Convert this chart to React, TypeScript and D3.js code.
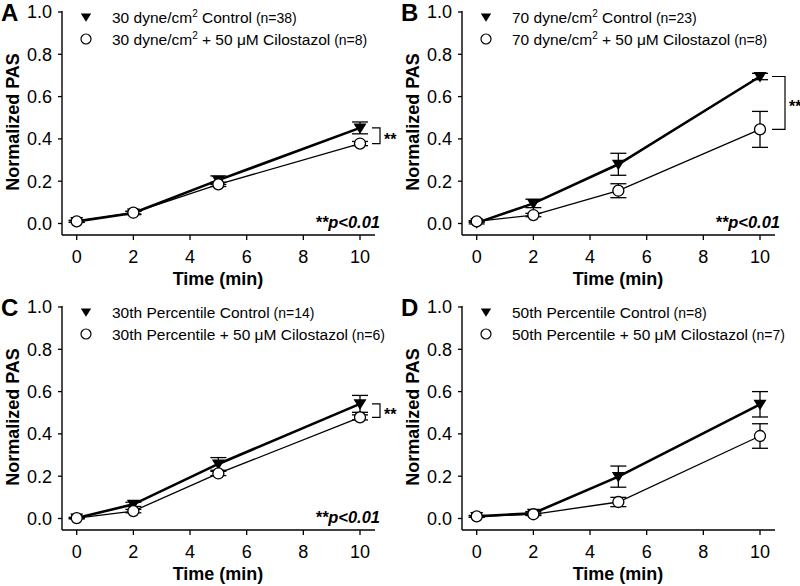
import React from "react";
import * as d3 from "d3";

const times = [0, 2, 5, 10];
const panelLetters = ["A", "B", "C", "D"];

const controlA = [0.01, 0.05, 0.205, 0.452];
const controlErrA = [0.005, 0.008, 0.02, 0.028];
const ciloA = [0.01, 0.051, 0.185, 0.378];
const ciloErrA = [0.004, 0.006, 0.01, 0.01];

const controlB = [0.003, 0.095, 0.28, 0.695];
const controlErrB = [0.005, 0.02, 0.052, 0.015];
const ciloB = [0.01, 0.04, 0.155, 0.445];
const ciloErrB = [0.004, 0.008, 0.033, 0.085];

const controlC = [0.002, 0.067, 0.258, 0.542];
const controlErrC = [0.003, 0.01, 0.03, 0.04];
const ciloC = [0.002, 0.035, 0.213, 0.478];
const ciloErrC = [0.003, 0.008, 0.01, 0.012];

const controlD = [0.01, 0.025, 0.198, 0.54];
const controlErrD = [0.004, 0.008, 0.05, 0.06];
const ciloD = [0.01, 0.02, 0.078, 0.39];
const ciloErrD = [0.004, 0.006, 0.022, 0.058];

const controlLabels = ["30 dyne/cm^2 Control", "70 dyne/cm^2 Control", "30th Percentile Control", "50th Percentile Control"];
const controlN = ["(n=38)", "(n=23)", "(n=14)", "(n=8)"];
const ciloLabels = ["30 dyne/cm^2 + 50 \u03BCM Cilostazol", "70 dyne/cm^2 + 50 \u03BCM Cilostazol", "30th Percentile + 50 \u03BCM Cilostazol", "50th Percentile + 50 \u03BCM Cilostazol"];
const ciloN = ["(n=8)", "(n=8)", "(n=6)", "(n=7)"];
const significant = [true, true, true, false];

const xTicks = [0, 2, 4, 6, 8, 10];
const yTicks = [0, 0.2, 0.4, 0.6, 0.8, 1.0];

const FONT = "'Liberation Sans', Arial, Helvetica, sans-serif";

const controls = [controlA, controlB, controlC, controlD];
const controlErrs = [controlErrA, controlErrB, controlErrC, controlErrD];
const cilos = [ciloA, ciloB, ciloC, ciloD];
const ciloErrs = [ciloErrA, ciloErrB, ciloErrC, ciloErrD];

const offsets = [
  [0, 0],
  [400, 0],
  [0, 295],
  [400, 295],
];
const bracketX = [380, 385, 380, 380];
const bracketW = [8, 13, 8, 8];

function Label({ text, n, x, y }: { text: string; n: string; x: number; y: number }) {
  const parts = text.split("^2");
  return (
    <text x={x} y={y} fontFamily={FONT} fontSize={15.5} fill="#000">
      {parts.length > 1 ? (
        <>
          <tspan>{parts[0]}</tspan>
          <tspan fontSize={10} dy={-6}>2</tspan>
          <tspan dy={6}>{parts[1]}</tspan>
        </>
      ) : (
        <tspan>{text}</tspan>
      )}
      <tspan fontSize={14}> {n}</tspan>
    </text>
  );
}

function triPath(cx: number, cy: number, s = 1) {
  return `M${cx - 6.5 * s},${cy - 4.5 * s}L${cx + 6.5 * s},${cy - 4.5 * s}L${cx},${cy + 6 * s}Z`;
}

function Panel({ i }: { i: number }) {
  const [ox, oy] = offsets[i];
  const x = d3.scaleLinear().domain([0, 10]).range([76.7, 360]);
  const y = d3.scaleLinear().domain([0, 1]).range([223.5, 12]);
  const axisX0 = 62;
  const axisY0 = 235;
  const ctrl = controls[i];
  const cil = cilos[i];
  const line = d3
    .line<number>()
    .x((_, k) => x(times[k]))
    .y((d) => y(d));
  const cap = 8;
  const errBars = (vals: number[], errs: number[], key: string) =>
    vals.map((v, k) => {
      const cx = x(times[k]);
      const t = y(v + errs[k]);
      const b = y(v - errs[k]);
      return (
        <g key={key + k} stroke="#000" strokeWidth={1.3}>
          <line x1={cx} x2={cx} y1={t} y2={b} />
          <line x1={cx - cap} x2={cx + cap} y1={t} y2={t} />
          <line x1={cx - cap} x2={cx + cap} y1={b} y2={b} />
        </g>
      );
    });
  const yTop = y(ctrl[3]);
  const yBot = y(cil[3]);
  const bx = bracketX[i];
  const bw = bracketW[i];
  return (
    <g transform={`translate(${ox},${oy})`}>
      {/* axes */}
      <line x1={axisX0} x2={axisX0} y1={y(1) - 1} y2={axisY0} stroke="#000" strokeWidth={1.4} />
      <line x1={axisX0} x2={375} y1={axisY0} y2={axisY0} stroke="#000" strokeWidth={1.4} />
      {yTicks.map((t) => (
        <g key={"yt" + t}>
          <line x1={axisX0 - 4} x2={axisX0} y1={y(t)} y2={y(t)} stroke="#000" strokeWidth={1.3} />
          <text x={axisX0 - 10} y={y(t)} dy="0.35em" textAnchor="end" fontFamily={FONT} fontSize={18} fill="#000">
            {d3.format(".1f")(t)}
          </text>
        </g>
      ))}
      {xTicks.map((t) => (
        <g key={"xt" + t}>
          <line x1={x(t)} x2={x(t)} y1={axisY0} y2={axisY0 + 5} stroke="#000" strokeWidth={1.3} />
          <text x={x(t)} y={263} textAnchor="middle" fontFamily={FONT} fontSize={18} fill="#000">
            {t}
          </text>
        </g>
      ))}
      <text x={218} y={285} textAnchor="middle" fontFamily={FONT} fontSize={18} fontWeight="bold" fill="#000">
        Time (min)
      </text>
      <text
        transform={`translate(19,122) rotate(-90)`}
        textAnchor="middle"
        fontFamily={FONT}
        fontSize={18}
        fontWeight="bold"
        fill="#000"
      >
        Normalized PAS
      </text>
      <text x={1} y={21} fontFamily={FONT} fontSize={24} fontWeight="bold" fill="#000">
        {panelLetters[i]}
      </text>
      {/* legend */}
      <path d={triPath(86, 17, 0.8)} fill="#000" />
      <Label text={controlLabels[i]} n={controlN[i]} x={112} y={22.5} />
      <circle cx={86} cy={39} r={5} fill="#fff" stroke="#000" strokeWidth={1.2} />
      <Label text={ciloLabels[i]} n={ciloN[i]} x={112} y={44.5} />
      {/* data */}
      <path d={line(ctrl) || ""} fill="none" stroke="#000" strokeWidth={2.6} />
      <path d={line(cil) || ""} fill="none" stroke="#000" strokeWidth={1.3} />
      {errBars(ctrl, controlErrs[i], "ce")}
      {errBars(cil, ciloErrs[i], "ie")}
      {ctrl.map((v, k) => (
        <path key={"tr" + k} d={triPath(x(times[k]), y(v))} fill="#000" />
      ))}
      {cil.map((v, k) => (
        <circle key={"ci" + k} cx={x(times[k])} cy={y(v)} r={5.5} fill="#fff" stroke="#000" strokeWidth={1.3} />
      ))}
      {significant[i] && (
        <g>
          <path
            d={`M${bx - bw},${yTop}H${bx}V${yBot}H${bx - bw}`}
            fill="none"
            stroke="#000"
            strokeWidth={1.2}
          />
          <text x={bx + 4} y={(yTop + yBot) / 2 + 9} fontFamily={FONT} fontSize={16} fontWeight="bold" fill="#000">
            **
          </text>
          <text
            x={380}
            y={228}
            textAnchor="end"
            fontFamily={FONT}
            fontSize={16.5}
            fontWeight="bold"
            fontStyle="italic"
            fill="#000"
          >
            **p&lt;0.01
          </text>
        </g>
      )}
    </g>
  );
}

export default function App() {
  return (
    <svg
      width={800}
      height={586}
      viewBox="0 0 800 586"
      style={{ position: "absolute", left: 0, top: 0, background: "#fff" }}
    >
      <rect width={800} height={586} fill="#fff" />
      {[0, 1, 2, 3].map((i) => (
        <Panel key={i} i={i} />
      ))}
    </svg>
  );
}
